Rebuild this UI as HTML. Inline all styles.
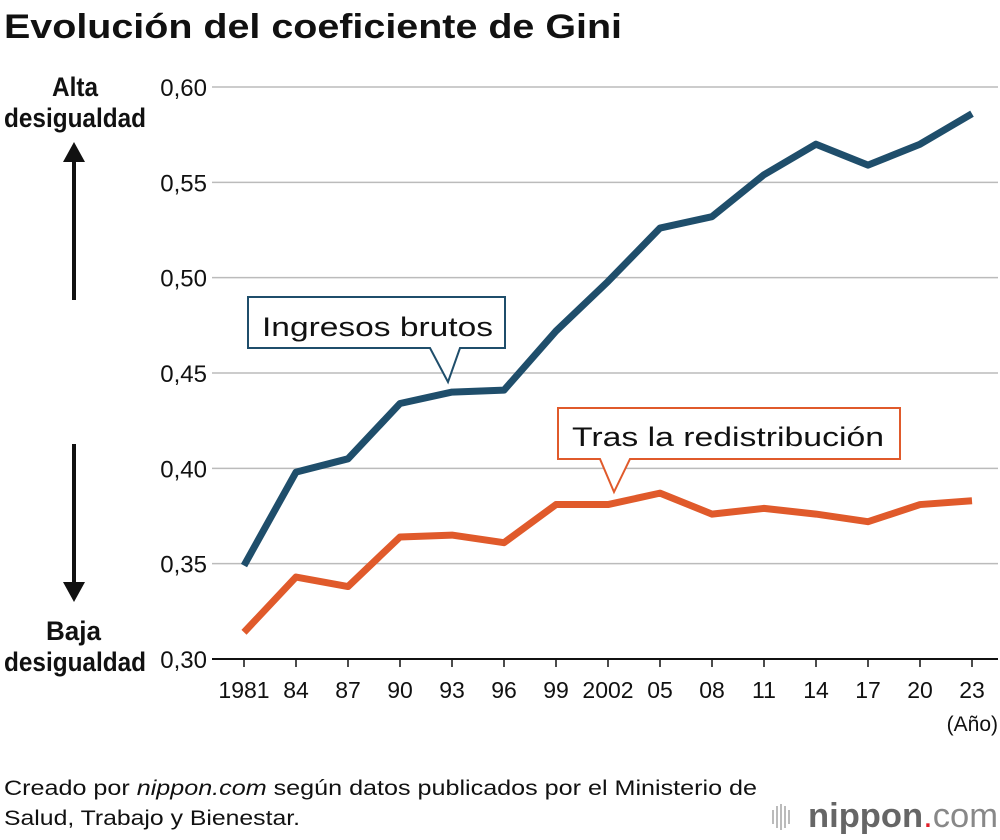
<!DOCTYPE html>
<html><head><meta charset="utf-8"><style>
body{margin:0;background:#fff;font-family:"Liberation Sans",sans-serif;}
#wrap{position:relative;width:1000px;height:840px;overflow:hidden;}
</style></head><body>
<div id="wrap">
<svg id="chart" width="1000" height="840">
<text x="4" y="38" font-size="34" font-weight="bold" fill="#111" textLength="618" lengthAdjust="spacingAndGlyphs">Evolución del coeficiente de Gini</text>
<g id="grid"></g>
<g id="yticks"></g>
<g id="xticks"></g>
<g id="series"></g>
<g font-size="27" font-weight="bold" fill="#111">
<text x="52" y="96" textLength="46" lengthAdjust="spacingAndGlyphs">Alta</text><text x="4" y="127" textLength="142" lengthAdjust="spacingAndGlyphs">desigualdad</text></g>
<g font-size="27" font-weight="bold" fill="#111">
<text x="46" y="640" textLength="55" lengthAdjust="spacingAndGlyphs">Baja</text><text x="4" y="671" textLength="142" lengthAdjust="spacingAndGlyphs">desigualdad</text></g>
<g><line x1="74" y1="300" x2="74" y2="152" stroke="#111" stroke-width="4"/><polygon points="63,162 74,142 85,162" fill="#111"/></g>
<g><line x1="74" y1="444" x2="74" y2="592" stroke="#111" stroke-width="4"/><polygon points="63,582 74,602 85,582" fill="#111"/></g>
<g>
<path d="M248,297 H505 V348 H460 L448,382 L430,348 H248 Z" fill="#fff" stroke="#1f4e6b" stroke-width="2"/>
<text x="262" y="336" font-size="27" fill="#111" textLength="231" lengthAdjust="spacingAndGlyphs">Ingresos brutos</text></g>
<g>
<path d="M558,408 H900 V459 H630 L614,492 L600,459 H558 Z" fill="#fff" stroke="#e05a2b" stroke-width="2"/>
<text x="572" y="446" font-size="27" fill="#111" textLength="312" lengthAdjust="spacingAndGlyphs">Tras la redistribución</text></g>
<text x="998" y="731" font-size="21" text-anchor="end" fill="#111">(Año)</text>
<g font-size="21" fill="#111">
<text x="4" y="795" textLength="753" lengthAdjust="spacingAndGlyphs">Creado por <tspan font-style="italic">nippon.com</tspan> según datos publicados por el Ministerio de</text>
<text x="4" y="825" textLength="296" lengthAdjust="spacingAndGlyphs">Salud, Trabajo y Bienestar.</text></g>
<g>
<g fill="#bbb"><rect x="772" y="810" width="2" height="14"/><rect x="776" y="806" width="2" height="22"/><rect x="780" y="804" width="2" height="26"/><rect x="784" y="806" width="2" height="22"/><rect x="788" y="810" width="2" height="14"/></g>
<text x="808" y="827" font-size="34" fill="#666" textLength="190" lengthAdjust="spacingAndGlyphs"><tspan font-weight="bold">nippon</tspan><tspan fill="#e0202a">.</tspan><tspan fill="#888">com</tspan></text></g>
</svg>
</div>
<script>
const years=["1981","84","87","90","93","96","99","2002","05","08","11","14","17","20","23"];
const grossIncome=[0.349,0.398,0.405,0.434,0.440,0.441,0.472,0.498,0.526,0.532,0.554,0.570,0.559,0.570,0.586];
const afterRedistribution=[0.314,0.343,0.338,0.364,0.365,0.361,0.381,0.381,0.387,0.376,0.379,0.376,0.372,0.381,0.383];
const yTickValues=[0.30,0.35,0.40,0.45,0.50,0.55,0.60];
const yTickLabels=["0,30","0,35","0,40","0,45","0,50","0,55","0,60"];
const NS="http://www.w3.org/2000/svg";
const x0=244,dx=52,yBase=659,yTop=87,vMin=0.30,vMax=0.60;
function xs(i){return x0+i*dx;}
function ys(v){return yBase-(v-vMin)/(vMax-vMin)*(yBase-yTop);}
function mk(t,a,p){const e=document.createElementNS(NS,t);for(const k in a)e.setAttribute(k,a[k]);p.appendChild(e);return e;}
const grid=document.getElementById('grid'),yt=document.getElementById('yticks'),xt=document.getElementById('xticks'),se=document.getElementById('series');
yTickValues.forEach((v,i)=>{
 if(i>0){const l=mk('line',{x1:212,x2:998,y1:ys(v),y2:ys(v),stroke:'#bbb','stroke-width':1.5},grid);
 
 }
 const t=mk('text',{x:207,y:ys(v)+9,'font-size':24,'text-anchor':'end',fill:'#111'},yt);t.textContent=yTickLabels[i];
 
 
});
const ax=mk('line',{x1:212,x2:998,y1:yBase,y2:yBase,stroke:'#111','stroke-width':2},grid);


years.forEach((y,i)=>{
 const tk=mk('line',{x1:xs(i),x2:xs(i),y1:yBase,y2:yBase+8,stroke:'#111','stroke-width':1.5},xt);
 
 
 const t=mk('text',{x:xs(i),y:698,'font-size':23,'text-anchor':'middle',fill:'#111'},xt);t.textContent=y;
 
 
});
function line(vals,color,name){
 const p=mk('polyline',{points:vals.map((v,i)=>xs(i)+','+ys(v)).join(' '),fill:'none',stroke:color,'stroke-width':7,'stroke-linejoin':'round'},se);
 
 
}
line(grossIncome,'#1f4e6b','gross-income-line');
line(afterRedistribution,'#e05a2b','after-redistribution-line');
</script>
</body></html>
